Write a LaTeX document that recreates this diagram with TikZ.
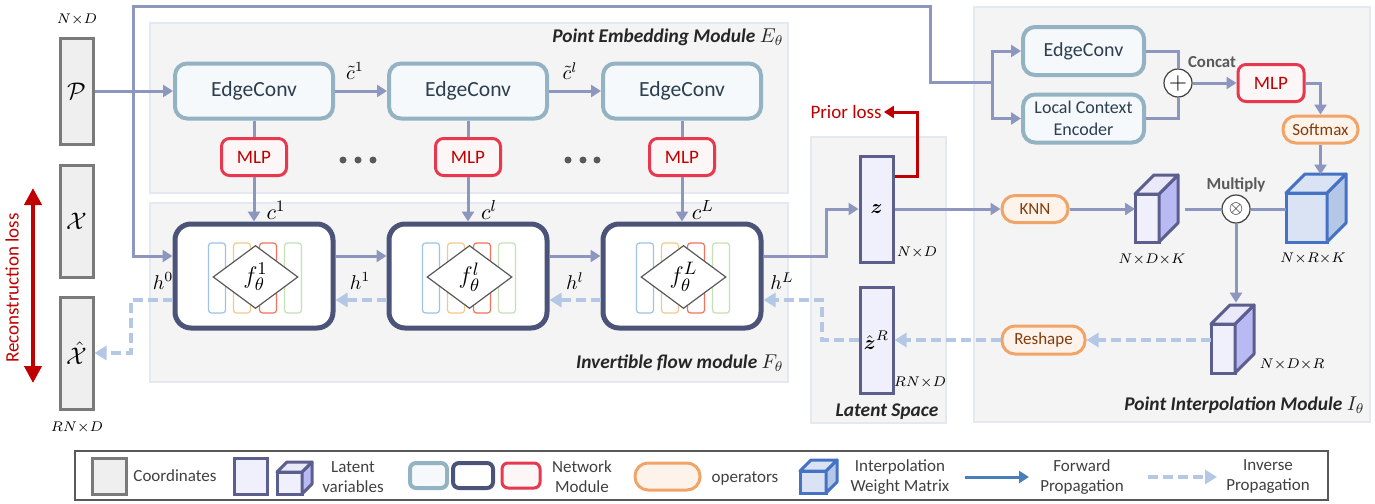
\documentclass[tikz,border=0pt]{standalone}
\usepackage{amsmath}
\usepackage{fontspec}
\setmainfont{Carlito}
\usetikzlibrary{arrows.meta,shapes.geometric,shadows}

\definecolor{arrowcol}{HTML}{8C96BE}
\definecolor{invcol}{HTML}{B4C8E6}
\definecolor{panelfill}{HTML}{F4F4F4}
\definecolor{panelline}{HTML}{E4E8F0}
\definecolor{edgeline}{HTML}{93B3C3}
\definecolor{edgefill}{HTML}{F6F9FB}
\definecolor{edgetext}{HTML}{2C3E50}
\definecolor{mlpline}{HTML}{E8384F}
\definecolor{mlpfill}{HTML}{FDF6F6}
\definecolor{mlptext}{HTML}{C00000}
\definecolor{flowline}{HTML}{4B5378}
\definecolor{coordline}{HTML}{7A7A7A}
\definecolor{coordfill}{HTML}{EFEFEF}
\definecolor{latline}{HTML}{5C5E8E}
\definecolor{latfill}{HTML}{F0F0FC}
\definecolor{latside}{HTML}{B9B9F4}
\definecolor{lattop}{HTML}{E9E9F9}
\definecolor{wline}{HTML}{4472C4}
\definecolor{wfill}{HTML}{DAE3F3}
\definecolor{wside}{HTML}{B4C7E7}
\definecolor{wtop}{HTML}{DAE3F3}
\definecolor{opline}{HTML}{F0A468}
\definecolor{opfill}{HTML}{FDF3EA}
\definecolor{optext}{HTML}{843C0C}
\definecolor{lossred}{HTML}{C00000}
\definecolor{labelgray}{HTML}{595959}
\definecolor{titletext}{HTML}{262626}
\definecolor{legblue}{HTML}{4A7EBB}
\definecolor{stripblue}{HTML}{9DC3E6}
\definecolor{striporange}{HTML}{F2C98B}
\definecolor{stripred}{HTML}{F4735A}
\definecolor{stripgreen}{HTML}{C5E0B4}

\tikzset{
  panel/.style={fill=panelfill, draw=panelline, line width=0.6pt},
  softshadow/.style={drop shadow={opacity=0.18, shadow xshift=0.8pt, shadow yshift=-0.8pt}},
  coordbox/.style={draw=coordline, fill=coordfill, line width=1.5pt, minimum width=16.5pt, inner sep=0pt, font=\fontsize{13}{15}\selectfont},
  latbox/.style={draw=latline, fill=latfill, line width=1.5pt, minimum width=16.5pt, minimum height=53pt, inner sep=0pt, font=\fontsize{10}{12}\selectfont},
  edgebox/.style={draw=edgeline, fill=edgefill, line width=2pt, rounded corners=6pt, minimum width=79pt, minimum height=27.5pt, text=edgetext, font=\fontsize{10.8}{13}\selectfont, softshadow},
  mlpbox/.style={draw=mlpline, fill=mlpfill, line width=1.5pt, rounded corners=4pt, minimum width=32.5pt, minimum height=18.5pt, text=mlptext, font=\fontsize{9.5}{11}\selectfont, softshadow},
  flowbox/.style={draw=flowline, fill=white, line width=2.5pt, rounded corners=8pt, minimum width=79pt, minimum height=52pt, softshadow},
  opbox/.style={draw=opline, fill=opfill, line width=1.5pt, rounded corners=6.5pt, minimum height=13.5pt, inner sep=1pt, text=optext, font=\fontsize{8.5}{10}\selectfont},
  opcircle/.style={circle, draw=black!75, fill=white, line width=0.6pt, minimum size=14pt, inner sep=0pt, font=\fontsize{12}{12}\selectfont},
  fdiamond/.style={diamond, draw=black!65, fill=white, line width=0.6pt, aspect=1.35, minimum width=42.5pt, minimum height=31.5pt, inner sep=0pt, font=\fontsize{13}{14}\selectfont},
  cubefront/.style={draw=latline, fill=latfill, line width=1.5pt, outer sep=0pt, inner sep=0pt},
  wfront/.style={draw=wline, fill=wfill, line width=1.5pt, outer sep=0pt, inner sep=0pt},
  fwdline/.style={draw=arrowcol, line width=1.5pt},
  fwd/.style={fwdline, -{Triangle[length=5pt,width=6pt]}},
  inv/.style={draw=invcol, line width=2pt, dash pattern=on 5pt off 2.5pt, -{Triangle[length=6pt,width=7pt]}},
  lossarrow/.style={draw=lossred, line width=1.5pt, -{Triangle[length=5pt,width=6pt]}},
  recon/.style={draw=lossred, line width=2pt, {Triangle[length=8.5pt,width=8.5pt]}-{Triangle[length=8.5pt,width=8.5pt]}},
  losstext/.style={text=lossred, inner sep=1pt, font=\fontsize{9.5}{11}\selectfont},
  modtitle/.style={text=titletext, inner sep=1pt, font=\fontsize{9.7}{12}\bfseries\itshape},
  oplabel/.style={text=labelgray, inner sep=1pt, font=\fontsize{8.4}{10}\bfseries},
  dimlabel/.style={inner sep=1pt, font=\fontsize{7.5}{9}\selectfont},
  clabel/.style={inner sep=1pt, font=\fontsize{11}{13}\selectfont},
  hlabel/.style={inner sep=1pt, font=\fontsize{10}{12}\selectfont},
  legendtext/.style={align=center, text=black!75, inner sep=1pt, font=\fontsize{8.5}{10}\selectfont}
}

% side and top faces of a cube drawn on a front node
\newcommand{\cubefaces}[5]{%
  \filldraw[draw=#5, fill=#3, line width=1.5pt, line join=round] (#1.north east) -- ++(#2,-#2) -- ([shift={(#2,-#2)}]#1.south east) -- (#1.south east) -- cycle;
  \filldraw[draw=#5, fill=#4, line width=1.5pt, line join=round] (#1.north west) -- ++(#2,-#2) -- ([shift={(#2,-#2)}]#1.north east) -- (#1.north east) -- cycle;
}

\begin{document}
\begin{tikzpicture}[x=0.5pt, y=-0.5pt]
\useasboundingbox (0,0) rectangle (1375,503);

% module panels
\filldraw[panel] (150,23) rectangle (788,193);
\filldraw[panel] (150,203) rectangle (788,382);
\filldraw[panel] (811,137) rectangle (946,423);
\filldraw[panel] (974,7) rectangle (1370,422);

\node[modtitle, anchor=east] (embtitle) at (786,37) {Point Embedding Module $E_\theta$};
\node[modtitle, anchor=east] (flowtitle) at (786,363) {Invertible flow module $F_\theta$};
\node[modtitle] (lattitle) at (887,412) {Latent Space};
\node[modtitle, anchor=east] (inttitle) at (1367,405) {Point Interpolation Module $I_\theta$};

% input / output coordinates
\node[coordbox, minimum height=53pt] (P) at (76.5,91) {$\mathcal{P}$};
\node[coordbox, minimum height=56pt] (X) at (76.5,221) {$\mathcal{X}$};
\node[coordbox, minimum height=56pt] (Xhat) at (76.5,353) {$\hat{\mathcal{X}}$};
\node[dimlabel] (Pdim) at (77,20) {$N{\times}D$};
\node[dimlabel] (Xdim) at (77,428) {$RN{\times}D$};

\coordinate (rtop) at (33,188);
\coordinate (rbot) at (33,383);
\draw[recon] (rbot) -- (rtop);
\node[losstext, rotate=90] (recontxt) at (12,288) {Reconstruction loss};

% point embedding module
\node[edgebox] (ec1) at (254,91) {EdgeConv};
\node[edgebox] (ec2) at (468,91) {EdgeConv};
\node[edgebox] (ec3) at (682,91) {EdgeConv};
\node[mlpbox] (mlp1) at (254,157) {MLP};
\node[mlpbox] (mlp2) at (468,157) {MLP};
\node[mlpbox] (mlp3) at (682,157) {MLP};
\foreach \x in {343,358,373,568,583,597}
  \fill[black!65] (\x,160) circle (1.75pt);

% invertible flow module
\node[flowbox] (f1) at (254,276) {};
\node[flowbox] (f2) at (468,276) {};
\node[flowbox] (f3) at (682,276) {};
\foreach \f in {f1,f2,f3}{
  \foreach \dx/\col in {-37/stripblue,-12/striporange,14/stripred,39/stripgreen}
    \draw[draw=\col, line width=0.6pt, rounded corners=1.5pt] ([shift={(\dx-8.5,-33)}]\f.center) rectangle ([shift={(\dx+8.5,37)}]\f.center);
}
\node[fdiamond] (d1) at ([shift={(1.5,1)}]f1.center) {$f_\theta^1$};
\node[fdiamond] (d2) at ([shift={(1.5,1)}]f2.center) {$f_\theta^l$};
\node[fdiamond] (d3) at ([shift={(1.5,1)}]f3.center) {$f_\theta^L$};

\draw[fwd] (P.east) -- (ec1.west);
\draw[fwd] (ec1) -- (ec2);
\draw[fwd] (ec2) -- (ec3);
\node[hlabel] (ct1) at (355,71) {$\tilde{c}^1$};
\node[hlabel] (ctl) at (570,71) {$\tilde{c}^l$};
\draw[fwdline] (ec1) -- (mlp1);
\draw[fwdline] (ec2) -- (mlp2);
\draw[fwdline] (ec3) -- (mlp3);
\draw[fwd] (mlp1) -- (f1);
\draw[fwd] (mlp2) -- (f2);
\draw[fwd] (mlp3) -- (f3);
\node[clabel] (c1) at (276,210) {$c^1$};
\node[clabel] (cl) at (489,210) {$c^l$};
\node[clabel] (cL) at (703,210) {$c^L$};

\coordinate (split) at (133,91);
\coordinate (rail) at (930,6);
\coordinate (branch) at (992,82);
\draw[fwdline] (split) |- (rail) |- (branch);
\draw[fwd] (split) |- ([yshift=10pt]f1.west);
\draw[fwd] ([yshift=10pt]f1.east) -- ([yshift=10pt]f2.west);
\draw[fwd] ([yshift=10pt]f2.east) -- ([yshift=10pt]f3.west);
\draw[inv] ([yshift=-12pt]f3.west) -- ([yshift=-12pt]f2.east);
\draw[inv] ([yshift=-12pt]f2.west) -- ([yshift=-12pt]f1.east);
\draw[inv] ([yshift=-12pt]f1.west) -- ++(-42,0) |- (Xhat.east);
\node[hlabel] (h0) at (163,281) {$h^0$};
\node[hlabel] (h1) at (360,281) {$h^1$};
\node[hlabel] (hl) at (575,281) {$h^l$};
\node[hlabel] (hL) at (782,281) {$h^L$};

% latent space
\node[latbox] (z) at (876.5,209) {$\boldsymbol{z}$};
\node[latbox] (zhat) at (876.5,340) {$\hat{\boldsymbol{z}}^R$};
\node[dimlabel] (zdim) at (917,253) {$N{\times}D$};
\node[dimlabel] (zhatdim) at (920,383) {$RN{\times}D$};
\draw[fwd] ([yshift=10pt]f3.east) -- ++(63,0) |- (z.west);
\draw[inv] (zhat.west) -- ++(-37,0) |- ([yshift=-12pt]f3.east);
\node[losstext] (prior) at (846,112) {Prior loss};
\draw[lossarrow] ([yshift=16.5pt]z.east) -- ++(23,0) |- (prior.east);

% point interpolation module
\node[edgebox, minimum width=60.5pt, minimum height=24pt, font=\fontsize{10}{12}\selectfont] (rec) at (1083.5,51) {EdgeConv};
\node[edgebox, minimum width=60.5pt, minimum height=24pt, align=center, font=\fontsize{9}{11}\selectfont] (rlce) at (1083.5,118.5) {Local Context\\Encoder};
\node[opcircle] (concat) at (1178,83) {$+$};
\node[oplabel] (concatlbl) at (1212,62) {Concat};
\node[mlpbox, minimum width=33pt] (rmlp) at (1271,83) {MLP};
\node[opbox, minimum width=37.5pt] (softmax) at (1320.5,129.5) {Softmax};
\node[opbox, minimum width=33pt] (knn) at (1035,209) {KNN};
\node[opbox, minimum width=41.5pt, minimum height=14pt] (reshape) at (1043.5,340) {Reshape};
\node[opcircle, font=\fontsize{9}{9}\selectfont] (mult) at (1236,209) {$\otimes$};
\node[oplabel] (multlbl) at (1236,185) {Multiply};

\node[cubefront, minimum width=12pt, minimum height=24pt] (knnfeat) at (1147,218) {};
\cubefaces{knnfeat}{19}{latside}{lattop}{latline}
\node[wfront, minimum width=20.5pt, minimum height=24.5pt] (wcube) at (1306.5,217.5) {};
\cubefaces{wcube}{19}{wside}{wtop}{wline}
\node[cubefront, minimum width=12pt, minimum height=24.5pt] (outfeat) at (1223,348.5) {};
\cubefaces{outfeat}{19}{latside}{lattop}{latline}
\node[dimlabel] (knndim) at (1152,260) {$N{\times}D{\times}K$};
\node[dimlabel] (wdim) at (1313,259) {$N{\times}R{\times}K$};
\node[dimlabel] (outdim) at (1292,365) {$N{\times}D{\times}R$};

\draw[fwd] (branch) |- (rec.west);
\draw[fwd] (branch) |- (rlce.west);
\draw[fwdline] (rec.east) -| (concat.north);
\draw[fwdline] (rlce.east) -| (concat.south);
\draw[fwd] (concat.east) -- (rmlp.west);
\draw[fwd] (rmlp.east) -| (softmax.north);
\draw[fwd] (softmax.south) -- ++(0,30);
\draw[fwd] (z.east) -- (knn.west);
\draw[fwd] (knn.east) -- (knn.east -| knnfeat.west);
\draw[fwdline] (mult.west) -- ++(-36,0);
\draw[fwdline] (mult.east) -- (mult.east -| wcube.west);
\draw[fwd] (mult.south) -- ++(0,79);
\draw[inv] (outfeat.west |- reshape.east) -- (reshape.east);
\draw[inv] (reshape.west) -- (zhat.east);

% legend
\draw[black!65, line width=1pt] (75,451) rectangle (1328,500);
\node[coordbox, minimum width=17pt, minimum height=18pt] (lgcoord) at (109,476) {};
\node[legendtext] (lgcoordtxt) at (175,476) {Coordinates};
\node[latbox, minimum height=18pt] (lglat) at (250.5,476) {};
\node[cubefront, minimum width=12.5pt, minimum height=11pt] (lgcube) at (289.5,483) {};
\cubefaces{lgcube}{10}{latside}{lattop}{latline}
\node[legendtext] (lglattxt) at (353,477) {Latent\\variables};
\node[edgebox, minimum width=18.5pt, minimum height=12.5pt, rounded corners=3pt] (lgedge) at (428.5,475.5) {};
\node[flowbox, minimum width=20pt, minimum height=12.5pt, rounded corners=3pt, line width=2pt] (lgflow) at (473,475.5) {};
\node[mlpbox, minimum width=19pt, minimum height=12.5pt, rounded corners=3pt] (lgmlp) at (521,475.5) {};
\node[legendtext] (lgnettxt) at (582,477) {Network\\Module};
\node[opbox, minimum width=32.5pt] (lgop) at (667.5,476.5) {};
\node[legendtext] (lgoptxt) at (745,478) {operators};
\node[wfront, minimum width=13pt, minimum height=11pt] (lgw) at (813,482) {};
\cubefaces{lgw}{11}{wside}{wtop}{wline}
\node[legendtext] (lgwtxt) at (900,477) {Interpolation\\Weight Matrix};
\coordinate (lgfa) at (965,477);
\coordinate (lgfb) at (1029,477);
\draw[fwd, draw=legblue] (lgfa) -- (lgfb);
\node[legendtext] (lgfwdtxt) at (1082,477) {Forward\\Propagation};
\coordinate (lgia) at (1148,477);
\coordinate (lgib) at (1217,477);
\draw[inv] (lgia) -- (lgib);
\node[legendtext] (lginvtxt) at (1268,477) {Inverse\\Propagation};
\end{tikzpicture}
\end{document}
